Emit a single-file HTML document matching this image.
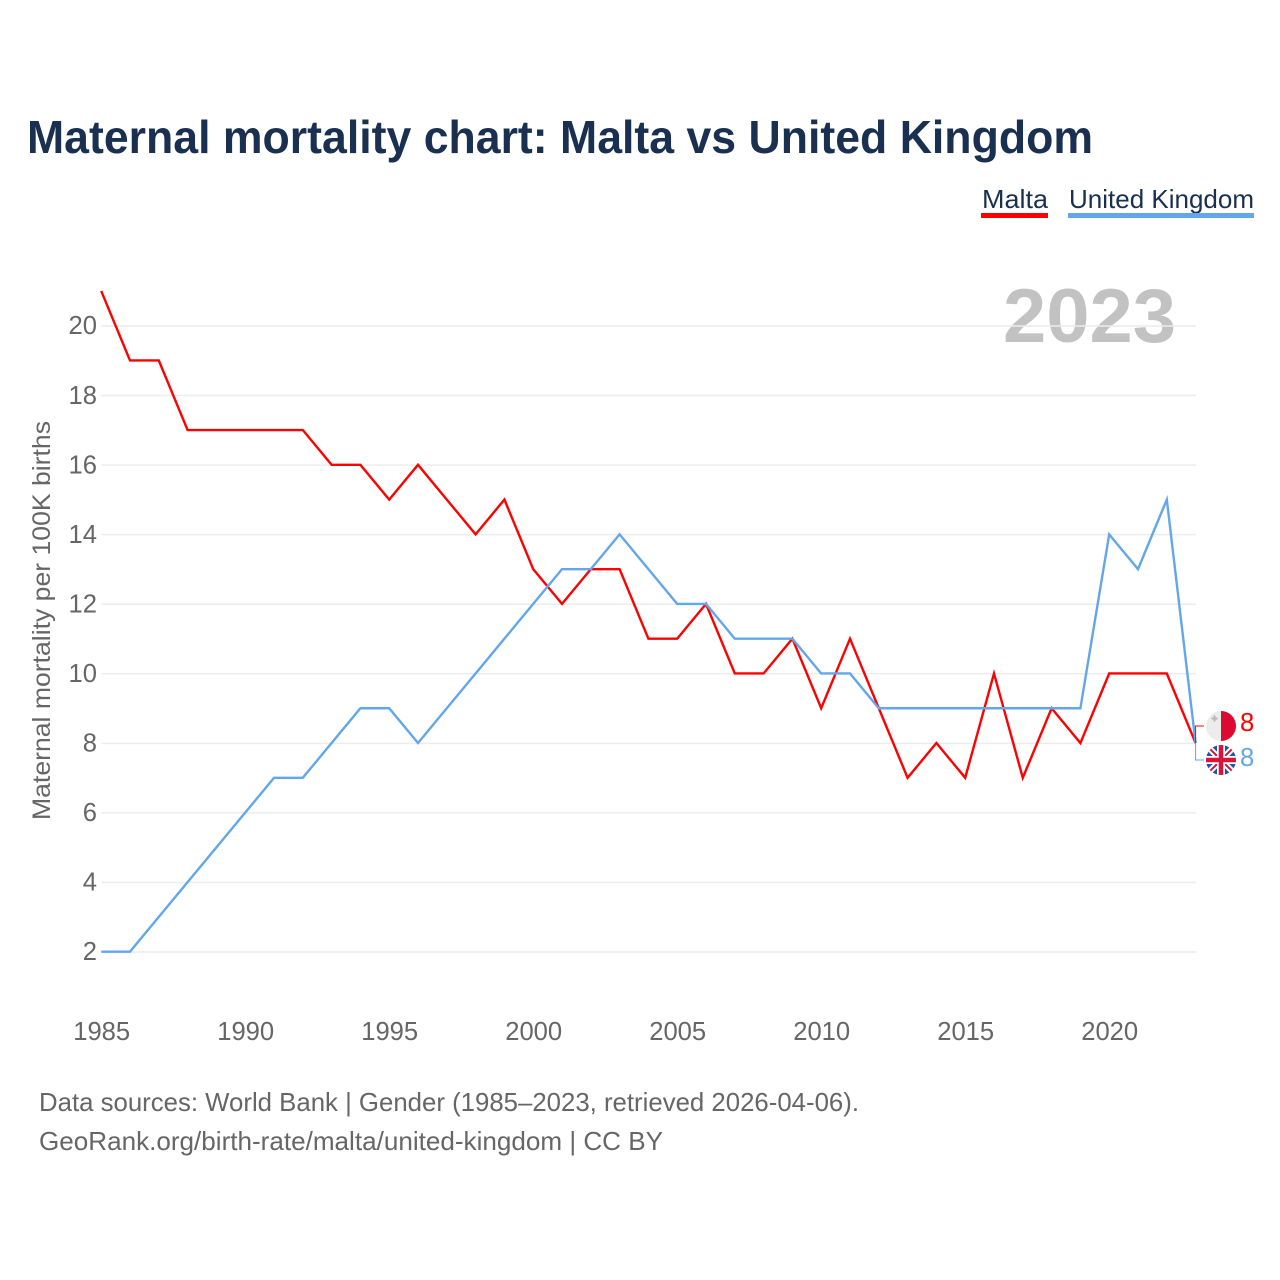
<!DOCTYPE html>
<html lang="en">
<head>
<meta charset="utf-8">
<title>Maternal mortality chart: Malta vs United Kingdom</title>
<style>
html,body{margin:0;padding:0;background:#fff;width:1280px;height:1280px;overflow:hidden}
svg{display:block}
text{font-family:"Liberation Sans",sans-serif}
.tick{font-size:25.6px;fill:#666}
</style>
</head>
<body>
<svg id="chart" xmlns="http://www.w3.org/2000/svg" width="1280" height="1280" viewBox="0 0 1280 1280">
  <defs>
    <clipPath id="clip-mt"><circle cx="1221" cy="726" r="15"/></clipPath>
    <clipPath id="clip-uk"><circle cx="1221" cy="760" r="15"/></clipPath>
  </defs>
  <text x="27" y="153" font-size="46" font-weight="700" fill="#1a3050" textLength="1066" lengthAdjust="spacingAndGlyphs">Maternal mortality chart: Malta vs United Kingdom</text>

  <g>
    <g>
      <text x="982" y="208" font-size="26" fill="#1a3050" textLength="66" lengthAdjust="spacingAndGlyphs">Malta</text>
      <rect x="981" y="213" width="67" height="5" fill="#ff0000"/>
    </g>
    <g>
      <text x="1069" y="208" font-size="26" fill="#1a3050" textLength="185" lengthAdjust="spacingAndGlyphs">United Kingdom</text>
      <rect x="1068" y="213" width="186" height="5" fill="#62a6ec"/>
    </g>
  </g>

  <text x="1176" y="342" text-anchor="end" font-size="76" font-weight="700" fill="#c2c2c2" textLength="173" lengthAdjust="spacingAndGlyphs">2023</text>

  <g id="grid"></g>
  <g id="yticks"></g>
  <g id="xticks"></g>

  <text transform="translate(50,820) rotate(-90)" font-size="25" fill="#666" textLength="399" lengthAdjust="spacingAndGlyphs">Maternal mortality per 100K births</text>

  <g id="series"></g>
  <g id="ends"></g>

  <g clip-path="url(#clip-mt)">
    <rect x="1206" y="711" width="15" height="30" fill="#ececec"/>
    <rect x="1221" y="711" width="15" height="30" fill="#dc0a32"/>
    <path d="M1213.5 715.5h2v2h2v2h-2v2h-2v-2h-2v-2h2z" fill="#b5b5b5"/>
  </g>
  <g clip-path="url(#clip-uk)">
    <rect x="1206" y="745" width="30" height="30" fill="#1c57ad"/>
    <path d="M1206 745L1236 775M1236 745L1206 775" stroke="#fff" stroke-width="6"/>
    <path d="M1206 745L1236 775M1236 745L1206 775" stroke="#d8143a" stroke-width="2"/>
    <path d="M1221 745V775M1206 760H1236" stroke="#fff" stroke-width="8"/>
    <path d="M1221 745V775M1206 760H1236" stroke="#d8143a" stroke-width="4.5"/>
  </g>
  <text x="1240" y="731" font-size="25.6" fill="#ff0000" id="end-mt"></text>
  <text x="1240" y="766" font-size="25.6" fill="#62a6ec" id="end-uk"></text>

  <text x="39" y="1111" font-size="25.6" fill="#666" textLength="820" lengthAdjust="spacingAndGlyphs">Data sources: World Bank | Gender (1985–2023, retrieved 2026-04-06).</text>
  <a><text x="39" y="1150" font-size="25.6" fill="#666" textLength="624" lengthAdjust="spacingAndGlyphs">GeoRank.org/birth-rate/malta/united-kingdom | CC BY</text></a>
</svg>
<script>
const years = [1985,1986,1987,1988,1989,1990,1991,1992,1993,1994,1995,1996,1997,1998,1999,2000,2001,2002,2003,2004,2005,2006,2007,2008,2009,2010,2011,2012,2013,2014,2015,2016,2017,2018,2019,2020,2021,2022,2023];
const maltaValues = [21,19,19,17,17,17,17,17,16,16,15,16,15,14,15,13,12,13,13,11,11,12,10,10,11,9,11,9,7,8,7,10,7,9,8,10,10,10,8];
const ukValues = [2,2,3,4,5,6,7,7,8,9,9,8,9,10,11,12,13,13,14,13,12,12,11,11,11,10,10,9,9,9,9,9,9,9,9,14,13,15,8];
const yTickValues = [2,4,6,8,10,12,14,16,18,20];
const xTickValues = [1985,1990,1995,2000,2005,2010,2015,2020];

const NS = 'http://www.w3.org/2000/svg';
function xScale(year){ return 101.2 + (year - 1985) * 28.8; }
function yScale(v){ return 951.7 - (v - 2) * (626 / 18); }
function make(tag, attrs, parent){
  const el = document.createElementNS(NS, tag);
  for (const k in attrs) el.setAttribute(k, attrs[k]);
  parent.appendChild(el);
  return el;
}
const grid = document.getElementById('grid');
const yticks = document.getElementById('yticks');
const xticks = document.getElementById('xticks');
const series = document.getElementById('series');
const ends = document.getElementById('ends');

yTickValues.forEach(function(v){
  const line = make('line', {x1:101.5, x2:1196, y1:yScale(v)+0.3, y2:yScale(v)+0.3, stroke:'#ececec', 'stroke-width':1.5}, grid);
  
  
  const label = make('text', {x:97, y:yScale(v)+8.5, 'text-anchor':'end', class:'tick'}, yticks);
  
  
  label.textContent = v;
});
xTickValues.forEach(function(y){
  const label = make('text', {x:xScale(y)+0.5, y:1040, 'text-anchor':'middle', class:'tick'}, xticks);
  
  
  label.textContent = y;
});
function pointsFor(values){
  return values.map(function(v,i){ return xScale(years[i]).toFixed(2) + ',' + yScale(v).toFixed(2); }).join(' ');
}
const maltaLine = make('polyline', {points:pointsFor(maltaValues), fill:'none', stroke:'#ff0000', 'stroke-width':2.4, 'stroke-linejoin':'miter'}, series);


const ukLine = make('polyline', {points:pointsFor(ukValues), fill:'none', stroke:'#62a6ec', 'stroke-width':2.4, 'stroke-linejoin':'miter'}, series);



const lastX = xScale(years[years.length-1]);
const mtEnd = maltaValues[maltaValues.length-1];
const ukEnd = ukValues[ukValues.length-1];
const mtConn = make('polyline', {points:lastX+','+yScale(mtEnd)+' '+lastX+',726 1204,726', fill:'none', stroke:'#ff0000', 'stroke-width':1}, ends);


const ukConn = make('polyline', {points:lastX+','+yScale(ukEnd)+' '+lastX+',760 1204,760', fill:'none', stroke:'#62a6ec', 'stroke-width':1}, ends);


document.getElementById('end-mt').textContent = mtEnd;
document.getElementById('end-uk').textContent = ukEnd;
</script>
</body>
</html>
